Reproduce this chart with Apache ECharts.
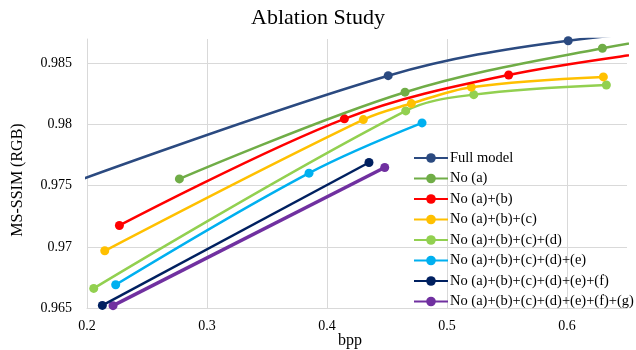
<!DOCTYPE html>
<html>
<head>
<meta charset="utf-8">
<script src="https://cdn.jsdelivr.net/npm/echarts@6/dist/echarts.min.js"></script>
<style>html,body{margin:0;padding:0;background:#fff;}#c{width:636px;height:350px;}</style>
</head>
<body>
<div id="c"></div>
<script>
const seriesNames = ['Full model','No (a)','No (a)+(b)','No (a)+(b)+(c)','No (a)+(b)+(c)+(d)','No (a)+(b)+(c)+(d)+(e)','No (a)+(b)+(c)+(d)+(e)+(f)','No (a)+(b)+(c)+(d)+(e)+(f)+(g)'];
const colors = ['#2B4A80','#70AD47','#FF0000','#FFC000','#92D050','#00B0F0','#002060','#7030A0'];

const fullBpp   = [0.150, 0.451, 0.601, 0.800];
const fullSsim  = [0.9739, 0.9840, 0.98686, 0.9885];
const noA_Bpp   = [0.277, 0.465, 0.6295, 0.760];
const noA_Ssim  = [0.97556, 0.98265, 0.98624, 0.9882];
const noAB_Bpp  = [0.227, 0.4145, 0.5514, 0.700];
const noAB_Ssim = [0.97175, 0.98047, 0.98406, 0.9863];
const noABC_Bpp  = [0.2148, 0.4303, 0.4703, 0.5203, 0.6303];
const noABC_Ssim = [0.96968, 0.98041, 0.98172, 0.98306, 0.98390];
const noABCD_Bpp  = [0.2056, 0.4656, 0.5223, 0.6328];
const noABCD_Ssim = [0.96660, 0.98112, 0.98245, 0.98324];
const noABCDE_Bpp  = [0.2239, 0.385, 0.4792];
const noABCDE_Ssim = [0.96690, 0.97603, 0.98014];
const noABCDEF_Bpp  = [0.2128, 0.435];
const noABCDEF_Ssim = [0.96521, 0.97690];
const noABCDEFG_Bpp  = [0.2217, 0.4481];
const noABCDEFG_Ssim = [0.96519, 0.97649];

const xs = [fullBpp, noA_Bpp, noAB_Bpp, noABC_Bpp, noABCD_Bpp, noABCDE_Bpp, noABCDEF_Bpp, noABCDEFG_Bpp];
const ys = [fullSsim, noA_Ssim, noAB_Ssim, noABC_Ssim, noABCD_Ssim, noABCDE_Ssim, noABCDEF_Ssim, noABCDEFG_Ssim];

const FONT = "'Liberation Serif', 'Times New Roman', serif";

const series = seriesNames.map((name, i) => ({
  name: name,
  type: 'line',
  smooth: 0.35,
  clip: true,
  symbol: 'circle',
  symbolSize: 9,
  data: xs[i].map((x, k) => [x, ys[i][k]]),
  lineStyle: { color: colors[i], width: i === 7 ? 3.5 : 2.5 },
  itemStyle: { color: colors[i] },
  z: 10 - i
}));

const chart = echarts.init(document.getElementById('c'), null, { renderer: 'canvas' });
chart.setOption({
  animation: false,
  backgroundColor: '#fff',
  title: {
    text: 'Ablation Study',
    left: 'center',
    top: 7,
    padding: 0,
    textStyle: { fontFamily: FONT, fontSize: 22, fontWeight: 'normal', color: '#000' }
  },
  legend: {
    orient: 'vertical',
    left: 413,
    top: 150.5,
    padding: 0,
    itemWidth: 34,
    itemHeight: 12,
    itemGap: 5.5,
    textStyle: { fontFamily: FONT, fontSize: 14.5, color: '#000', padding: [0, 0, 0, -3] },
    data: seriesNames
  },
  grid: { left: 87, right: 9, top: 39, bottom: 42, containLabel: false, outerBoundsMode: 'none' },
  xAxis: {
    type: 'value',
    min: 0.2, max: 0.65, interval: 0.1,
    name: 'bpp',
    nameLocation: 'middle',
    nameGap: 25,
    nameMoveOverlap: false,
    nameTextStyle: { fontFamily: FONT, fontSize: 16, color: '#000', padding: [0, 14, 0, 0] },
    axisLine: { show: true, lineStyle: { color: '#D9D9D9', width: 1 } },
    axisTick: { show: false },
    axisLabel: { fontFamily: FONT, fontSize: 14, color: '#000', margin: 11, showMaxLabel: false,
      formatter: v => (Math.round(v * 10) / 10).toString() },
    splitLine: { show: true, showMinLine: false, showMaxLine: false, lineStyle: { color: '#D9D9D9', width: 1 } }
  },
  yAxis: {
    type: 'value',
    min: 0.965, max: 0.987, interval: 0.005,
    name: 'MS-SSIM (RGB)',
    nameLocation: 'middle',
    nameRotate: 90,
    nameGap: 61,
    nameMoveOverlap: false,
    nameTextStyle: { fontFamily: FONT, fontSize: 16, color: '#000', padding: [0, 13, 0, 0] },
    axisLine: { show: true, lineStyle: { color: '#D9D9D9', width: 1 } },
    axisTick: { show: false },
    axisLabel: { fontFamily: FONT, fontSize: 14, color: '#000', margin: 15, showMaxLabel: false,
      formatter: v => parseFloat(v.toFixed(3)).toString() },
    splitLine: { show: true, showMinLine: false, showMaxLine: false, lineStyle: { color: '#D9D9D9', width: 1 } }
  },
  series: series
});
</script>
</body>
</html>
